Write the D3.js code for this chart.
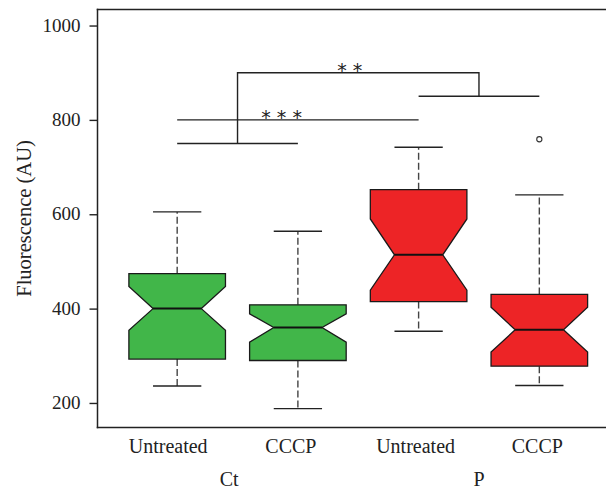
<!DOCTYPE html>
<html>
<head>
<meta charset="utf-8">
<script src="https://cdn.jsdelivr.net/npm/d3@7"></script>
<style>
  html, body { margin: 0; padding: 0; background: #fff; overflow: hidden; }
  svg { display: block; overflow: hidden; }
</style>
</head>
<body>
<div id="chart"></div>
<script>
// ---------- data ----------
const categories = ["Untreated", "CCCP", "Untreated", "CCCP"];
const groups = ["Ct", "Ct", "P", "P"];
const groupNames = ["Ct", "P"];
const groupLabelPos = [1.43, 3.5];
const whiskerLow  = [236, 188, 352, 237];
const q1          = [293, 290, 415, 278];
const median      = [400, 360, 514, 355];
const q3          = [474, 408, 652, 430];
const whiskerHigh = [605, 564, 742, 641];
const notchLow    = [354, 329, 439, 308];
const notchHigh   = [447, 389, 590, 403];
const outliers    = [[], [], [], [759]];
const fillColors  = ["#41b649", "#41b649", "#ed2426", "#ed2426"];
const yTicks = [200, 400, 600, 800, 1000];
// significance brackets
const brackets = [
  { x1: 1, x2: 2, y: 750 },
  { x1: 3, x2: 4, y: 850 },
  { x1: 1, x2: 3, y: 800 }
];
const connector = [[1.5, 750], [1.5, 900], [3.5, 900], [3.5, 850]];
const stars = [
  { text: "* * *", x: 1.865, y: 800 },
  { text: "* *",   x: 2.43, y: 900 }
];

// ---------- layout ----------
const W = 606, H = 490;
const svg = d3.select("#chart").append("svg").attr("width", W).attr("height", H);

const x = d3.scaleLinear().domain([0.34, 4.66]).range([97.5, 619]);
const y = d3.scaleLinear().domain([148, 1034]).range([427.5, 9.5]);

const serif = "'Liberation Serif', 'Times New Roman', serif";
const boxHalf = 0.4, capHalf = 0.2, notchHalf = 0.2;

const data = categories.map((c, i) => ({
  i, c, lo: whiskerLow[i], q1: q1[i], med: median[i], q3: q3[i], hi: whiskerHigh[i],
  nl: notchLow[i], nh: notchHigh[i], out: outliers[i], fill: fillColors[i]
}));

const g = svg.append("g");

// whiskers (dashed)
data.forEach(d => {
  const cx = x(d.i + 1);
  g.append("line").attr("x1", cx).attr("x2", cx).attr("y1", y(d.q3)).attr("y2", y(d.hi))
    .attr("stroke", "#444").attr("stroke-width", 1.4).attr("stroke-dasharray", "7,3");
  g.append("line").attr("x1", cx).attr("x2", cx).attr("y1", y(d.q1)).attr("y2", y(d.lo))
    .attr("stroke", "#444").attr("stroke-width", 1.4).attr("stroke-dasharray", "7,3");
  [d.lo, d.hi].forEach(v => {
    g.append("line").attr("x1", x(d.i + 1 - capHalf)).attr("x2", x(d.i + 1 + capHalf))
      .attr("y1", y(v)).attr("y2", y(v)).attr("stroke", "#222").attr("stroke-width", 1.4);
  });
});

// notched boxes
data.forEach(d => {
  const c = d.i + 1;
  const pts = [
    [c - boxHalf, d.q1], [c - boxHalf, d.nl], [c - notchHalf, d.med], [c - boxHalf, d.nh],
    [c - boxHalf, d.q3], [c + boxHalf, d.q3], [c + boxHalf, d.nh], [c + notchHalf, d.med],
    [c + boxHalf, d.nl], [c + boxHalf, d.q1]
  ];
  g.append("path")
    .attr("d", d3.line().x(p => x(p[0])).y(p => y(p[1]))(pts) + "Z")
    .attr("fill", d.fill).attr("stroke", "#1a1a1a").attr("stroke-width", 1.3)
    .attr("stroke-linejoin", "miter");
  g.append("line").attr("x1", x(c - notchHalf)).attr("x2", x(c + notchHalf))
    .attr("y1", y(d.med)).attr("y2", y(d.med)).attr("stroke", "#111").attr("stroke-width", 2);
  d.out.forEach(o => {
    g.append("circle").attr("cx", x(c)).attr("cy", y(o)).attr("r", 2.6)
      .attr("fill", "none").attr("stroke", "#333").attr("stroke-width", 1.1);
  });
});

// significance annotations
brackets.forEach(b => {
  g.append("line").attr("x1", x(b.x1)).attr("x2", x(b.x2)).attr("y1", y(b.y)).attr("y2", y(b.y))
    .attr("stroke", "#222").attr("stroke-width", 1.4);
});
g.append("path").attr("d", d3.line().x(p => x(p[0])).y(p => y(p[1]))(connector))
  .attr("fill", "none").attr("stroke", "#222").attr("stroke-width", 1.4);
stars.forEach(s => {
  g.append("text").attr("x", x(s.x)).attr("y", y(s.y) + 4)
    .attr("text-anchor", "middle").attr("font-family", "'DejaVu Sans', sans-serif")
    .attr("font-size", 19).attr("fill", "#222").text(s.text);
});

// frame: left, top and bottom (the right side lies beyond the image edge)
const fx0 = x(0.34), fy0 = y(1034), fy1 = y(148);
[[fx0, fy0, W, fy0], [fx0, fy1, W, fy1], [fx0, fy0, fx0, fy1]].forEach(l => {
  svg.append("line").attr("x1", l[0]).attr("y1", l[1]).attr("x2", l[2]).attr("y2", l[3])
    .attr("stroke", "#222").attr("stroke-width", 1.5).attr("stroke-linecap", "square");
});

// y axis
const yAxis = d3.axisLeft(y).tickValues(yTicks).tickSize(8).tickPadding(9).tickFormat(d3.format("d"));
const ya = svg.append("g").attr("transform", `translate(${fx0},0)`).call(yAxis);
ya.select(".domain").remove();
ya.selectAll(".tick line").attr("stroke", "#222").attr("stroke-width", 1.4);
ya.selectAll(".tick text").attr("font-family", serif).attr("font-size", 19).attr("fill", "#222")
  .attr("dy", "0.3em");

// x category labels
const labelShift = [-9, -7, -3, -2];
svg.append("g").selectAll("text").data(categories).join("text")
  .attr("x", (d, i) => x(i + 1) + labelShift[i]).attr("y", 453)
  .attr("text-anchor", "middle").attr("font-family", serif).attr("font-size", 20).attr("fill", "#222")
  .text(d => d);

// group labels
svg.append("g").selectAll("text").data(groupNames).join("text")
  .attr("x", (d, i) => x(groupLabelPos[i])).attr("y", 486)
  .attr("text-anchor", "middle").attr("font-family", serif).attr("font-size", 20).attr("fill", "#222")
  .text(d => d);

// y title
svg.append("text").attr("transform", `translate(31,${(fy1 + fy0) / 2}) rotate(-90)`)
  .attr("text-anchor", "middle").attr("font-family", serif).attr("font-size", 20.5).attr("fill", "#222")
  .text("Fluorescence (AU)");
</script>
</body>
</html>
